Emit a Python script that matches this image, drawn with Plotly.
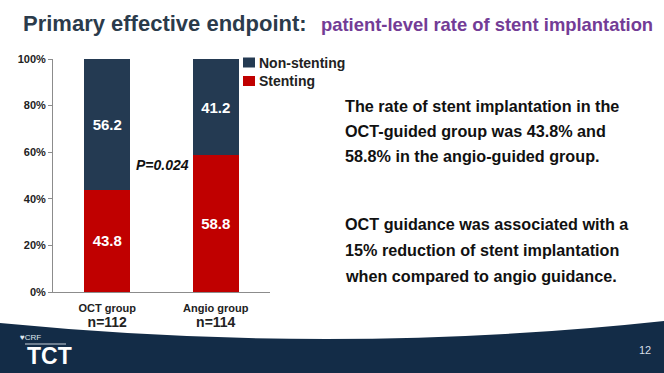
import plotly.graph_objects as go

W, H = 664, 373

categories = ["OCT group", "Angio group"]
n_labels = ["n=112", "n=114"]
stenting = [43.8, 58.8]
non_stenting = [56.2, 41.2]
series_names = ["Non-stenting", "Stenting"]
y_ticks = [0, 20, 40, 60, 80, 100]
y_tick_labels = ["0%", "20%", "40%", "60%", "80%", "100%"]
p_value_text = "P=0.024"

title_main = "Primary effective endpoint:"
title_sub = "patient-level rate of stent implantation"
body_lines_1 = [
    "The rate of stent implantation in the",
    "OCT-guided group was 43.8% and",
    "58.8% in the angio-guided group.",
]
body_lines_2 = [
    "OCT guidance was associated with a",
    "15% reduction of stent implantation",
    "when compared to angio guidance.",
]
slide_number = "12"

FONT = "Liberation Sans, Arial, sans-serif"
NAVY = "#243a52"
RED = "#c00000"


def px(x):
    return x / W


def py(y):
    return 1 - y / H


fig = go.Figure()
fig.add_trace(go.Bar(
    x=categories, y=stenting, name=series_names[1], marker_color=RED,
    marker_line_width=0, width=0.42,
    texttemplate="%{y:.1f}", textposition="inside", insidetextanchor="middle",
    textangle=0, constraintext="none",
    textfont=dict(family=FONT, size=15, color="white", weight="bold"),
))
fig.add_trace(go.Bar(
    x=categories, y=non_stenting, name=series_names[0], marker_color=NAVY,
    marker_line_width=0, width=0.42,
    texttemplate="%{y:.1f}", textposition="inside", insidetextanchor="middle",
    textangle=0, constraintext="none",
    textfont=dict(family=FONT, size=15, color="white", weight="bold"),
))

ticktext = [f"{c}<br><span style='font-size:14px'>{n}</span>" for c, n in zip(categories, n_labels)]

fig.update_layout(
    width=W, height=H,
    margin=dict(l=0, r=0, t=0, b=0, pad=0),
    paper_bgcolor="white", plot_bgcolor="white",
    barmode="stack", showlegend=False,
    font=dict(family=FONT, color="#222222"),
    xaxis=dict(
        domain=[px(53), px(270)], anchor="y", automargin=False,
        tickmode="array", tickvals=categories, ticktext=ticktext,
        tickfont=dict(family=FONT, size=11, color="#222222", weight="bold"),
        ticklabelstandoff=6,
        showline=True, linecolor="#8c8c8c", linewidth=1, ticks="",
        showgrid=False, zeroline=False, fixedrange=True,
    ),
    yaxis=dict(
        domain=[py(292), py(59)], anchor="x", automargin=False,
        range=[0, 100], tickmode="array", tickvals=y_ticks, ticktext=y_tick_labels,
        tickfont=dict(family=FONT, size=11, color="#222222", weight="bold"),
        showline=True, linecolor="#8c8c8c", linewidth=1,
        ticks="outside", ticklen=4, tickcolor="#8c8c8c",
        showgrid=False, zeroline=False, fixedrange=True,
    ),
)

shapes = []
annotations = []

# Footer band
p0 = (0, 323)
c = (340, 356)
p1 = (664, 321)
path = (f"M {px(p0[0])},{py(p0[1])} Q {px(c[0])},{py(c[1])} {px(p1[0])},{py(p1[1])} "
        f"L 1,0 L 0,0 Z")
shapes.append(dict(type="path", xref="paper", yref="paper", path=path,
                   fillcolor="#132c47", line=dict(width=0), layer="below"))
# thin line in logo
shapes.append(dict(type="line", xref="paper", yref="paper",
                   x0=px(25), x1=px(66), y0=py(344), y1=py(344),
                   line=dict(color="#c8d0da", width=1)))

# Manual legend
legend_colors = [NAVY, RED]
legend_y = [62.5, 81]
for name, col, yc in zip(series_names, legend_colors, legend_y):
    shapes.append(dict(type="rect", xref="paper", yref="paper",
                       x0=px(243), x1=px(255), y0=py(yc + 5), y1=py(yc - 5),
                       fillcolor=col, line=dict(width=0)))
    annotations.append(dict(xref="paper", yref="paper", x=px(257), y=py(yc),
                            xanchor="left", yanchor="middle", showarrow=False,
                            text=name, font=dict(family=FONT, size=14, color="#222222", weight="bold")))

# Title
annotations.append(dict(xref="paper", yref="paper", x=px(21), y=py(23),
                        xanchor="left", yanchor="middle", showarrow=False,
                        text=title_main,
                        font=dict(family=FONT, size=22, color="#2b3b4b", weight="bold")))
annotations.append(dict(xref="paper", yref="paper", x=px(319), y=py(24),
                        xanchor="left", yanchor="middle", showarrow=False,
                        text=title_sub,
                        font=dict(family=FONT, size=18.4, color="#733c96", weight="bold")))

# P value
annotations.append(dict(xref="paper", yref="paper", x=px(162), y=py(165),
                        xanchor="center", yanchor="middle", showarrow=False,
                        text=f"<i>{p_value_text}</i>",
                        font=dict(family=FONT, size=14, color="#111111", weight="bold")))

# Body text
for i, line in enumerate(body_lines_1):
    annotations.append(dict(xref="paper", yref="paper", x=px(343), y=py(105.5 + 25.5 * i),
                            xanchor="left", yanchor="middle", showarrow=False, text=line,
                            font=dict(family=FONT, size=16.2, color="#111111", weight="bold")))
for i, line in enumerate(body_lines_2):
    annotations.append(dict(xref="paper", yref="paper", x=px(343), y=py(224.5 + 25.5 * i),
                            xanchor="left", yanchor="middle", showarrow=False, text=line,
                            font=dict(family=FONT, size=16.2, color="#111111", weight="bold")))

# Footer text
annotations.append(dict(xref="paper", yref="paper", x=px(18), y=py(337),
                        xanchor="left", yanchor="middle", showarrow=False, text="♥CRF",
                        font=dict(family=FONT, size=8, color="#dfe6ee")))
annotations.append(dict(xref="paper", yref="paper", x=px(25), y=py(356),
                        xanchor="left", yanchor="middle", showarrow=False, text="TCT",
                        font=dict(family=FONT, size=23, color="white", weight="bold")))
annotations.append(dict(xref="paper", yref="paper", x=px(645), y=py(350),
                        xanchor="center", yanchor="middle", showarrow=False, text=slide_number,
                        font=dict(family=FONT, size=11, color="#d5dde6")))

fig.update_layout(shapes=shapes, annotations=annotations)
fig.write_html(
    "out.html",
    config={"displayModeBar": False},
    post_script="document.body.style.margin='0';document.body.style.overflow='hidden';",
)
